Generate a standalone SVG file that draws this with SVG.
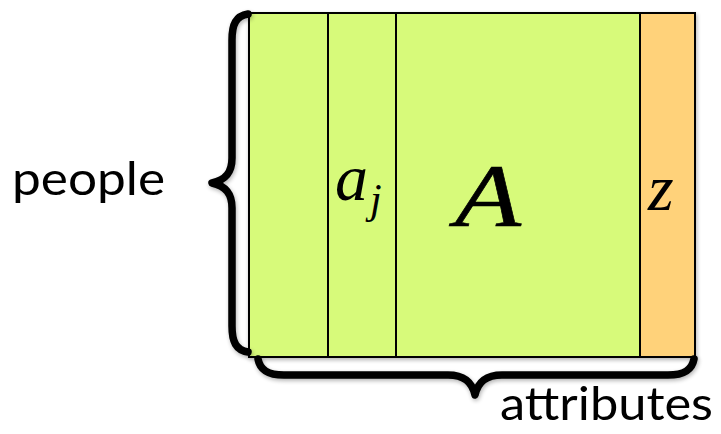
<svg xmlns="http://www.w3.org/2000/svg" width="721" height="434" viewBox="0 0 721 434">
<defs>
<filter id="sh" x="-10%" y="-10%" width="120%" height="120%">
<feGaussianBlur in="SourceAlpha" stdDeviation="2"/>
<feOffset dx="1" dy="2"/>
<feComponentTransfer><feFuncA type="linear" slope="0.3"/></feComponentTransfer>
<feMerge><feMergeNode/><feMergeNode in="SourceGraphic"/></feMerge>
</filter>
</defs>
<style>
.cell{stroke:#000;stroke-width:2}
.g{fill:#d7fa7a}
.o{fill:#ffd27a}
.brace{fill:none;stroke:#000;stroke-width:7.5;stroke-linecap:round;stroke-linejoin:round}
.lbl{font-family:Lato,"Open Sans",sans-serif;font-size:46px;fill:#000}
.math{font-family:"Liberation Serif","DejaVu Serif",serif;font-style:italic;fill:#000}
</style>
<g id="matrix" filter="url(#sh)">
<rect class="cell g" x="249" y="13" width="79" height="344"/>
<rect class="cell g" x="328" y="13" width="68" height="344"/>
<rect class="cell g" x="396" y="13" width="244" height="344"/>
<rect class="cell o" x="640" y="13" width="55" height="344"/>
</g>
<g id="labels">
<text class="math" x="335" y="200" font-size="66">a</text>
<text class="math" x="370" y="213" font-size="42">j</text>
<text class="math" x="455" y="225" font-size="88" textLength="66" lengthAdjust="spacingAndGlyphs" stroke="#000" stroke-width="0.6">A</text>
<text class="math" x="648" y="210" font-size="66">z</text>
</g>
<g id="connectors" filter="url(#sh)">
<path class="brace" d="M248,14 C236,16 232,24 232,40 L232,158 C232,172 226,180 212,183 C226,186 232,194 232,208 L232,326 C232,342 236,350 248,352"/>
<path class="brace" d="M258,359 C260,370 268,375 284,375 L448,375 C464,375 472,382 475,395 C478,382 486,375 502,375 L668,375 C684,375 692,370 694,359"/>
</g>
<g id="people"><text class="lbl" x="12" y="195" textLength="153" lengthAdjust="spacingAndGlyphs">people</text></g>
<g id="attributes"><text class="lbl" x="500" y="420" textLength="213" lengthAdjust="spacingAndGlyphs">attributes</text></g>
</svg>
